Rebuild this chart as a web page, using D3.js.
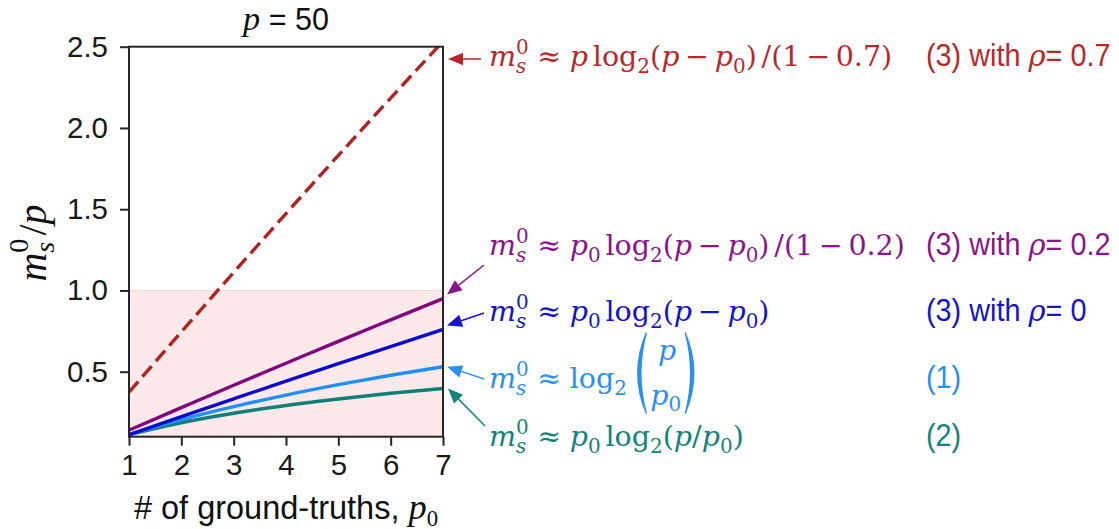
<!DOCTYPE html>
<html>
<head>
<meta charset="utf-8">
<script src="https://cdn.jsdelivr.net/npm/d3@7"></script>
<style>
  body { margin: 0; background: #ffffff; }
  svg { display: block; }
  svg text { white-space: pre; }
</style>
</head>
<body>
<svg id="chart" width="1119" height="529"></svg>
<script>
// Number of ground-truths p0 (p = 50 predictors)
const p0Values = [1, 2, 3, 4, 5, 6, 7];
// m_s^0 / p for each approximation
const rho07Values   = [0.374, 0.745, 1.111, 1.473, 1.831, 2.184, 2.532];
const rho02Values   = [0.140, 0.279, 0.417, 0.552, 0.687, 0.819, 0.950];
const rho0Values    = [0.112, 0.223, 0.333, 0.442, 0.549, 0.655, 0.760];
const binomValues   = [0.113, 0.205, 0.285, 0.356, 0.420, 0.478, 0.531];
const entropyValues = [0.113, 0.186, 0.244, 0.292, 0.332, 0.367, 0.397];
// Axis ticks
const xTickValues = [1, 2, 3, 4, 5, 6, 7];
const yTickValues = [0.5, 1.0, 1.5, 2.0, 2.5];
const xDomain = [1, 7];
const yDomain = [0.1, 2.5];
// Shaded band on the y axis
const bandRange = [0.1, 1.0];

const svg = d3.select('#chart');
const plot = { left: 129, right: 443, top: 46.7, bottom: 436.7 };

const x = d3.scaleLinear().domain(xDomain).range([plot.left, plot.right]);
const y = d3.scaleLinear().domain(yDomain).range([plot.bottom, plot.top]);

const SANS = "'Liberation Sans', Arial, sans-serif";
const MSERIF = "'Liberation Serif', 'Times New Roman', serif";   // axis mathtext
const ASERIF = "'DejaVu Serif', serif";                          // annotation formulas

svg.append('defs').append('clipPath').attr('id', 'plotClip')
  .append('rect')
  .attr('x', plot.left).attr('y', plot.top)
  .attr('width', plot.right - plot.left).attr('height', plot.bottom - plot.top);

// shaded band
svg.append('rect')
  .attr('x', x(xDomain[0]))
  .attr('y', y(bandRange[1]))
  .attr('width', x(xDomain[1]) - x(xDomain[0]))
  .attr('height', y(bandRange[0]) - y(bandRange[1]))
  .attr('fill', '#fde9e9');
svg.append('line')
  .attr('x1', x(xDomain[0])).attr('x2', x(xDomain[1]))
  .attr('y1', y(bandRange[1])).attr('y2', y(bandRange[1]))
  .attr('stroke', '#fad6d6').attr('stroke-width', 1);

// series
const series = [
  { name: 'rho07',   values: rho07Values,   color: '#b22222', dash: '14,6.5' },
  { name: 'rho02',   values: rho02Values,   color: '#800080' },
  { name: 'rho0',    values: rho0Values,    color: '#0a0acd' },
  { name: 'binom',   values: binomValues,   color: '#1e90ff' },
  { name: 'entropy', values: entropyValues, color: '#0f7f78' }
];
const line = d3.line()
  .x((d, i) => x(p0Values[i]))
  .y(d => y(d))
  .curve(d3.curveMonotoneX);

const linesG = svg.append('g').attr('clip-path', 'url(#plotClip)');
// draw bottom series first so the upper ones sit on top
[...series].reverse().forEach(s => {
  linesG.append('path')
    .attr('d', line(s.values))
    .attr('fill', 'none')
    .attr('stroke', s.color)
    .attr('stroke-width', 3.4)
    .attr('stroke-dasharray', s.dash || null);
});

// axes
const xAxis = d3.axisBottom(x).tickValues(xTickValues).tickFormat(d3.format('d'))
  .tickSize(9).tickPadding(8);
const yAxis = d3.axisLeft(y).tickValues(yTickValues).tickFormat(d3.format('.1f'))
  .tickSize(9).tickPadding(12);

const gx = svg.append('g').attr('transform', `translate(0,${plot.bottom})`).call(xAxis);
const gy = svg.append('g').attr('transform', `translate(${plot.left},0)`).call(yAxis);
[gx, gy].forEach(g => {
  g.select('.domain').remove();
  g.selectAll('.tick line').attr('stroke', '#262626').attr('stroke-width', 2);
  g.selectAll('.tick text').attr('fill', '#1a1a1a')
    .style('font-family', SANS).style('font-size', '29.5px');
});

// frame
svg.append('rect')
  .attr('x', plot.left).attr('y', plot.top)
  .attr('width', plot.right - plot.left).attr('height', plot.bottom - plot.top)
  .attr('fill', 'none').attr('stroke', '#262626').attr('stroke-width', 2);

// ---------- small formula layout helper ----------
// parts: {t, it, font, dy, scale} | {sp} | {base, sup, sub} | {sub} | {binom:[top, bottom, bottomSub]} | {narrow}
function layoutRow(parent, x0, baseline, parts, opt) {
  const size = opt.size;
  const g = parent.append('g').attr('fill', opt.color);
  let cx = x0;
  const put = (txt, px, py, fs, family, italic) => g.append('text')
    .attr('x', px).attr('y', py)
    .style('font-family', family)
    .style('font-size', fs + 'px')
    .style('font-style', italic ? 'italic' : 'normal')
    .text(txt);
  parts.forEach(p => {
    if (p.sp !== undefined) { cx += p.sp * size; return; }
    if (p.sup !== undefined && p.sub !== undefined) {
      // symbol with stacked super/subscript, all in one text element
      const fs = size * 0.7;
      const fam = p.font || opt.font;
      const rise = size * (p.supRise || 0.42);
      const drop = size * (p.subDrop || 0.22);
      const t = g.append('text').attr('x', cx).attr('y', baseline)
        .style('font-family', fam).style('font-size', size + 'px');
      const m = t.append('tspan').style('font-style', 'italic').text(p.base);
      const a = t.append('tspan').attr('dy', -rise).style('font-size', fs + 'px').text(p.sup);
      const wa = a.node().getComputedTextLength();
      const b = t.append('tspan').attr('dx', -wa).attr('dy', rise + drop)
        .style('font-size', fs + 'px')
        .style('font-style', p.subIt ? 'italic' : 'normal').text(p.sub);
      const wb = b.node().getComputedTextLength();
      cx += m.node().getComputedTextLength() + Math.max(wa, wb);
      return;
    }
    if (p.sub !== undefined) {
      const fs = size * 0.7;
      const t = put(p.sub, cx, baseline + size * (p.subDrop || 0.22), fs, p.font || opt.font, p.subIt);
      cx += t.node().getComputedTextLength();
      return;
    }
    if (p.binom) {
      const fs = size;
      const mid = baseline - size * 0.52;
      const half = size * 1.45;
      const parenW = size * 0.42;
      const topT = put(p.binom[0], 0, mid - size * 0.48, fs, opt.font, true);
      const bot = g.append('text').attr('y', mid + size * 1.12)
        .style('font-family', opt.font).style('font-size', fs + 'px');
      const b1 = bot.append('tspan').style('font-style', 'italic').text(p.binom[1]);
      const b2 = bot.append('tspan').attr('dy', size * 0.22)
        .style('font-size', (fs * 0.7) + 'px').text(p.binom[2]);
      const wTop = topT.node().getComputedTextLength();
      const wBot = b1.node().getComputedTextLength() + b2.node().getComputedTextLength();
      const inner = Math.max(wTop, wBot) + size * 0.3;
      const lx = cx + parenW + size * 0.25;
      topT.attr('x', lx + (inner - wTop) / 2 + size * 0.05);
      bot.attr('x', lx + (inner - wBot) / 2);
      const th = size * 0.12;
      const paren = (xa, dir) => {
        // crescent glyph: ends at xa, bulging by dir*parenW
        const bx = xa - dir * parenW * 1.5;
        return `M${xa},${mid - half} Q${bx},${mid} ${xa},${mid + half}` +
               ` L${xa + dir * 0.8},${mid + half - 1.5}` +
               ` Q${bx + dir * th * 2.4},${mid} ${xa + dir * 0.8},${mid - half + 1.5} Z`;
      };
      g.append('path').attr('d', paren(lx, 1));
      g.append('path').attr('d', paren(lx + inner, -1));
      cx = lx + inner + parenW;
      return;
    }
    if (p.narrow) {
      const fs = opt.sansSize || size;
      const k = opt.narrowScale || 0.9;
      const t = g.append('text')
        .attr('transform', `translate(${cx},${baseline}) scale(${k},1)`)
        .style('font-family', SANS).style('font-size', fs + 'px')
        .text(p.narrow);
      cx += t.node().getComputedTextLength() * k;
      return;
    }
    const fam = p.font || opt.font;
    const fs = size * (p.scale || 1);
    const t = put(p.t, cx, baseline + (p.dy || 0) * size, fs, fam, p.it);
    cx += t.node().getComputedTextLength();
  });
  return { g, width: cx - x0 };
}

// ---------- title, axis labels ----------
{
  const tmp = layoutRow(svg, 0, 30, [
    { t: 'p', it: true, font: MSERIF, scale: 1.12 },
    { t: ' = 50', font: SANS }
  ], { size: 30.5, color: '#111', font: SANS });
  tmp.g.attr('transform', `translate(${(plot.left + plot.right) / 2 - tmp.width / 2},0)`);
}
{
  const tmp = layoutRow(svg, 0, 519, [
    { t: '# of ground-truths, ', font: SANS },
    { t: 'p', it: true, font: MSERIF, scale: 1.12 },
    { sub: '0', font: MSERIF, subDrop: 0.2 }
  ], { size: 32.5, color: '#111', font: SANS });
  tmp.g.attr('transform', `translate(${(plot.left + plot.right) / 2 - tmp.width / 2},0)`);
}
{
  const holder = svg.append('g');
  const tmp = layoutRow(holder, 0, 0, [
    { base: 'm', sup: '0', sub: 's', subIt: true, supRise: 0.45, subDrop: 0.2 },
    { sp: 0.08 },
    { t: '/', },
    { t: 'p', it: true }
  ], { size: 40, color: '#111', font: MSERIF });
  tmp.g.attr('transform', `translate(${-tmp.width / 2},0)`);
  holder.attr('transform', 'translate(46,243) rotate(-90)');
}

// ---------- annotations ----------
const FX = 489;        // left edge of formulas
const RX = 926;        // left edge of equation references
const FS = 28.5;       // formula font size
const ms0 = [{ base: 'm', sup: '0', sub: 's', subIt: true, supRise: 0.42, subDrop: 0.25 }];
const approx = [{ sp: 0.3 }, { t: '≈' }, { sp: 0.3 }];
const log2 = [{ t: 'log' }, { sub: '2', subDrop: 0.24 }];
const minus = [{ sp: 0.2 }, { t: '−' }, { sp: 0.2 }];
const p0 = [{ t: 'p', it: true }, { sub: '0', subDrop: 0.24 }];
const pMinusP0 = [{ t: '(' }, { t: 'p', it: true }, ...minus, ...p0, { t: ')' }];
const denom = v => [{ sp: 0.17 }, { t: '/(1' }, ...minus, { t: v + ')' }];

const rows = [
  {
    color: '#b8282a', base: 66,
    formula: [...ms0, ...approx, { t: 'p', it: true }, { sp: 0.17 }, ...log2, ...pMinusP0, ...denom('0.7')],
    ref: [{ narrow: '(3) with ' }, { t: 'ρ', it: true }, { narrow: '= 0.7' }]
  },
  {
    color: '#8a158a', base: 255,
    formula: [...ms0, ...approx, ...p0, { sp: 0.17 }, ...log2, ...pMinusP0, ...denom('0.2')],
    ref: [{ narrow: '(3) with ' }, { t: 'ρ', it: true }, { narrow: '= 0.2' }]
  },
  {
    color: '#1414c8', base: 321,
    formula: [...ms0, ...approx, ...p0, { sp: 0.17 }, ...log2, ...pMinusP0],
    ref: [{ narrow: '(3) with ' }, { t: 'ρ', it: true }, { narrow: '= 0' }]
  },
  {
    color: '#2b8ff0', base: 388,
    formula: [...ms0, ...approx, ...log2, { binom: ['p', 'p', '0'] }],
    ref: [{ narrow: '(1)' }]
  },
  {
    color: '#13847a', base: 446,
    formula: [...ms0, ...approx, ...p0, { sp: 0.17 }, ...log2, { t: '(' }, { t: 'p', it: true }, { t: '/' }, ...p0, { t: ')' }],
    ref: [{ narrow: '(2)' }]
  }
];
rows.forEach(r => {
  layoutRow(svg, FX, r.base, r.formula, { size: FS, color: r.color, font: ASERIF });
  layoutRow(svg, RX, r.base, r.ref, { size: 29, sansSize: 31, narrowScale: 0.93, color: r.color, font: ASERIF });
});

// arrows from the formulas to the curve ends
function arrow(from, to, color) {
  const dx = to[0] - from[0], dy = to[1] - from[1];
  const len = Math.hypot(dx, dy);
  const ux = dx / len, uy = dy / len;
  const headL = 15, headW = 6.3;
  const bx = to[0] - ux * headL, by = to[1] - uy * headL;
  svg.append('line')
    .attr('x1', from[0]).attr('y1', from[1]).attr('x2', bx).attr('y2', by)
    .attr('stroke', color).attr('stroke-width', 1.5);
  svg.append('path')
    .attr('d', `M${to[0]},${to[1]} L${bx - uy * headW},${by + ux * headW} L${bx + uy * headW},${by - ux * headW} Z`)
    .attr('fill', color);
}
const xEnd = x(p0Values[p0Values.length - 1]) + 4;
const last = a => a[a.length - 1];
arrow([481, 59], [xEnd + 1, 59], '#b8282a');
arrow([484, 265], [xEnd, y(last(rho02Values)) - 4], '#8a158a');
arrow([484, 313], [xEnd, y(last(rho0Values)) - 4], '#1414c8');
arrow([484, 379], [xEnd, y(last(binomValues))], '#2b8ff0');
arrow([485, 426], [xEnd + 1, y(last(entropyValues))], '#13847a');
</script>
</body>
</html>
